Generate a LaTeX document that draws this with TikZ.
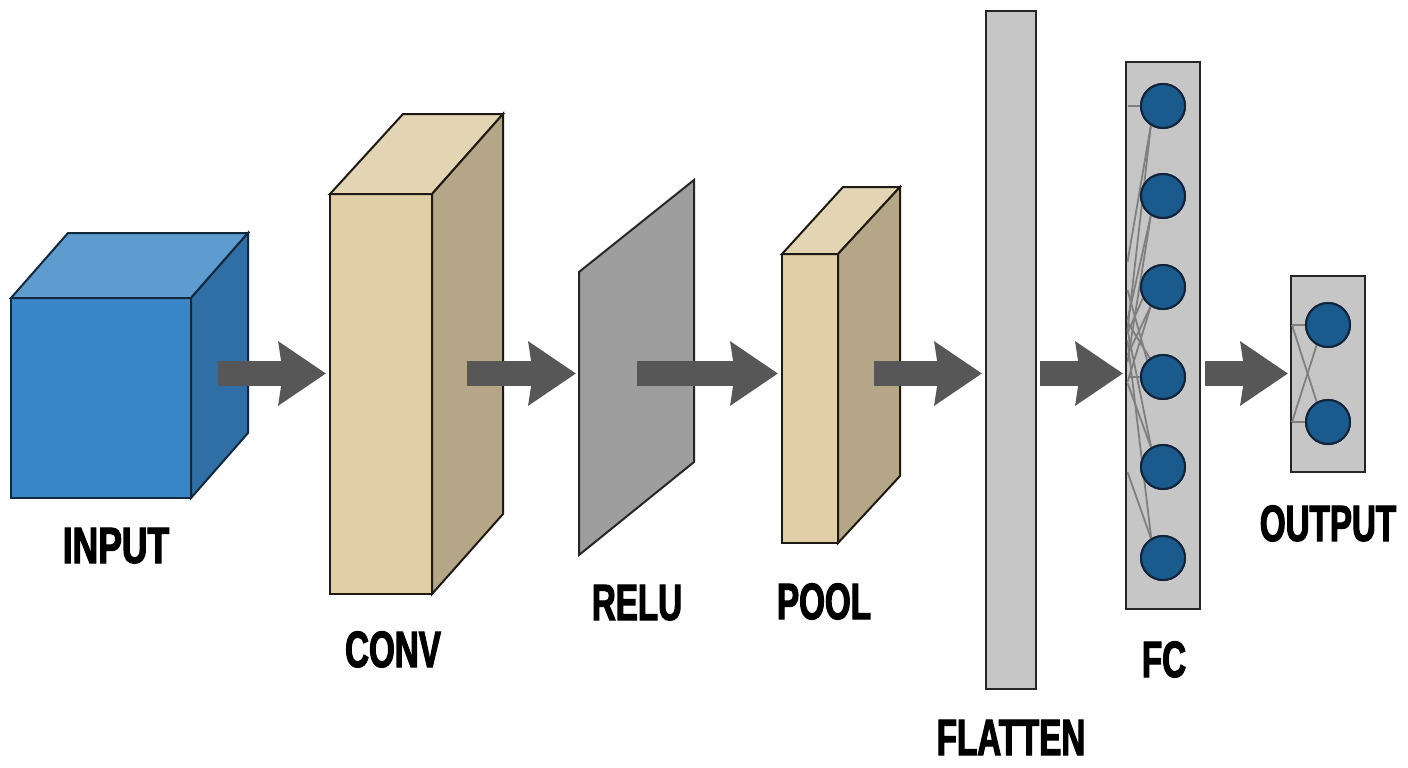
\documentclass[tikz,border=0pt]{standalone}
\usepackage{fontspec}
\usetikzlibrary{arrows.meta}
\newfontfamily\lblfont[FakeStretch=0.65,FakeBold=2.2]{Liberation Sans Bold}
\definecolor{bgc}{HTML}{FEFEFE}
\definecolor{cubeF}{HTML}{3A86C8}
\definecolor{cubeT}{HTML}{5E9BCF}
\definecolor{cubeR}{HTML}{2F6FA6}
\definecolor{cubeL}{HTML}{12283C}
\definecolor{tanF}{HTML}{E0CFA6}
\definecolor{tanT}{HTML}{E3D4B4}
\definecolor{tanR}{HTML}{B5A688}
\definecolor{tanL}{HTML}{1E1A12}
\definecolor{relF}{HTML}{9E9E9E}
\definecolor{panelF}{HTML}{C6C6C6}
\definecolor{panelL}{HTML}{262626}
\definecolor{neuF}{HTML}{1A5A8C}
\definecolor{neuL}{HTML}{10233A}
\definecolor{wireC}{HTML}{7F7F7F}
\definecolor{arrC}{HTML}{575757}
\tikzset{
  facecube/.style={draw=cubeL,line width=2pt,line join=miter},
  facetan/.style={draw=tanL,line width=2pt,line join=miter},
  frontbox/.style={rectangle,inner sep=0pt,outer sep=0pt,line width=2pt},
  panel/.style={rectangle,inner sep=0pt,outer sep=0pt,draw=panelL,fill=panelF,line width=2.2pt},
  neuron/.style={circle,inner sep=0pt,outer sep=0pt,minimum size=44pt,draw=neuL,fill=neuF,line width=2pt},
  wire/.style={draw=wireC,line width=1.8pt},
  flowarrow/.style={draw=arrC,line width=25pt,-{Stealth[length=47pt,width=62pt,inset=4pt,fill=arrC]}},
  lbl/.style={anchor=base,inner sep=0pt,text=black,font=\lblfont\fontsize{51}{51}\selectfont},
}
\begin{document}
\begin{tikzpicture}[x=1pt,y=-1pt]
\fill[bgc] (0,0) rectangle (1408,768);
\useasboundingbox (0,0) rectangle (1408,768);

% INPUT cube
\node[frontbox,facecube,fill=cubeF,minimum width=180pt,minimum height=200pt] (input) at (101,398) {};
\coordinate (inTL) at (68,233);
\coordinate (inTR) at (248,233);
\coordinate (inBR) at (248,433);
\draw[facecube,fill=cubeT] (input.north west) -- (inTL) -- (inTR) -- (input.north east) -- cycle;
\draw[facecube,fill=cubeR] (input.north east) -- (inTR) -- (inBR) -- (input.south east) -- cycle;

% CONV block
\node[frontbox,facetan,fill=tanF,minimum width=102pt,minimum height=400pt] (conv) at (381,394) {};
\coordinate (cvTL) at (403,114);
\coordinate (cvTR) at (503,114);
\coordinate (cvBR) at (503,514);
\draw[facetan,fill=tanT] (conv.north west) -- (cvTL) -- (cvTR) -- (conv.north east) -- cycle;
\draw[facetan,fill=tanR] (conv.north east) -- (cvTR) -- (cvBR) -- (conv.south east) -- cycle;

% RELU sheet
\coordinate (reA) at (579,272);
\coordinate (reB) at (694,180);
\coordinate (reC) at (694,462);
\coordinate (reD) at (579,555);
\draw[draw=panelL,line width=2pt,fill=relF] (reA) -- (reB) -- (reC) -- (reD) -- cycle;

% POOL block
\node[frontbox,facetan,fill=tanF,minimum width=56pt,minimum height=289pt] (pool) at (810,398.5) {};
\coordinate (poTL) at (843,187);
\coordinate (poTR) at (900,187);
\coordinate (poBR) at (900,476);
\draw[facetan,fill=tanT] (pool.north west) -- (poTL) -- (poTR) -- (pool.north east) -- cycle;
\draw[facetan,fill=tanR] (pool.north east) -- (poTR) -- (poBR) -- (pool.south east) -- cycle;

% FLATTEN bar
\node[panel,minimum width=50pt,minimum height=678pt] (flat) at (1011,350) {};

% FC panel
\node[panel,minimum width=74pt,minimum height=547pt] (fc) at (1163,335.5) {};
\foreach \i/\yy in {1/106,2/196,3/287,4/377,5/467,6/558}
  \node[neuron] (c\i) at (1163,\yy) {};

% OUTPUT panel
\node[panel,minimum width=74pt,minimum height=196pt] (out) at (1328,374) {};
\node[neuron] (o1) at (1328,325) {};
\node[neuron] (o2) at (1328,422) {};

% FC wires (behind neurons)
\foreach \n/\ang/\ey in {c1/180/106,c1/237/262,c1/237/330,c2/237/320,c2/237/362,c3/207/333,c3/237/382,
                         c3/237/355,c4/180/377,c4/135/290,c4/125/322,c5/122/330,c5/122/383,c6/122/340,c6/122/472}{
  \coordinate (e) at (1127.5,\ey);
  \draw[wire] (\n.\ang) -- (e);
}
\foreach \i in {1,...,6}
  \node[neuron] at (c\i) {};

% OUTPUT wires
\coordinate (oe1) at (1292,325);
\coordinate (oe2) at (1292,422);
\draw[wire] (o1.west) -- (oe1);
\draw[wire] (o2.west) -- (oe2);
\draw[wire] (o1.240) -- (oe2);
\draw[wire] (o2.120) -- (oe1);
\node[neuron] at (o1) {};
\node[neuron] at (o2) {};

% Flow arrows
\foreach \k/\sx/\ex in {1/218/326,2/467/576,3/637/778,4/874/982,5/1040/1123,6/1205/1288}{
  \coordinate (as\k) at (\sx,373.5);
  \coordinate (ae\k) at (\ex,373.5);
  \draw[flowarrow] (as\k) -- (ae\k);
}

% Labels
\node[lbl,xscale=1.07] (tInput) at (116,563) {INPUT};
\node[lbl] (tConv) at (393,667) {CONV};
\node[lbl] (tRelu) at (637,620) {RELU};
\node[lbl] (tPool) at (824,619) {POOL};
\node[lbl] (tFlat) at (1011,755) {FLATTEN};
\node[lbl] (tFc) at (1164,677) {FC};
\node[lbl] (tOut) at (1328,541) {OUTPUT};
\end{tikzpicture}
\end{document}
